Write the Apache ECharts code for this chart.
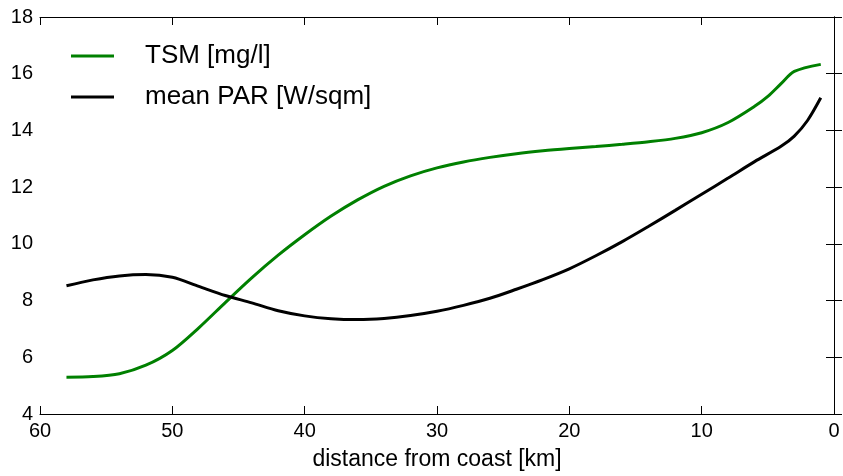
<!DOCTYPE html>
<html>
<head>
<meta charset="utf-8">
<script src="https://cdn.jsdelivr.net/npm/echarts@6/dist/echarts.min.js"></script>
<style>
html,body{margin:0;padding:0;background:#fff;}
#chart{width:843px;height:476px;}
</style>
</head>
<body>
<div id="chart"></div>
<script>
// distance from coast [km]
const distance = [58,56,54,52,50,48,46,44,42,40,38,36,34,32,30,28,26,24,22,20,18,16,14,12,10,8,6,5,4,3,1];
const tsm = [5.30,5.32,5.42,5.72,6.24,7.04,7.93,8.80,9.60,10.32,10.98,11.55,12.03,12.40,12.68,12.89,13.05,13.18,13.28,13.36,13.43,13.51,13.60,13.72,13.92,14.28,14.85,15.20,15.65,16.08,16.33];
const parDistance = [58,56,54,52,50,48,46,44,42,40,38,36,34,32,30,28,26,24,22,20,18,16,14,12,10,8,6,4,3,2,1];
const meanPar = [8.52,8.73,8.87,8.92,8.82,8.50,8.18,7.92,7.64,7.46,7.36,7.33,7.37,7.47,7.62,7.83,8.08,8.40,8.74,9.12,9.58,10.08,10.62,11.18,11.75,12.32,12.90,13.44,13.80,14.35,15.15];
const seriesNames = ['TSM [mg/l]', 'mean PAR [W/sqm]'];
const xTitle = 'distance from coast [km]';

const FONT = 'Liberation Sans';
const chart = echarts.init(document.getElementById('chart'), null, {renderer:'canvas'});

const axisLine = {show:true, lineStyle:{color:'#000', width:1}};
const tickIn = {show:true, inside:true, length:8, lineStyle:{color:'#000', width:1}};

chart.setOption({
  animation:false,
  backgroundColor:'#fff',
  grid:{left:40, right:9, top:17, bottom:62, containLabel:false},
  legend:{
    orient:'vertical',
    left:71, top:43, padding:0,
    itemWidth:43, itemHeight:3,
    itemGap:15,
    icon:'rect',
    textStyle:{fontFamily:FONT, fontSize:26, color:'#000', padding:[0,0,0,26]},
    data:seriesNames
  },
  xAxis:[{
    type:'value', min:0, max:60, interval:10, inverse:true,
    position:'bottom',
    name:xTitle, nameLocation:'middle', nameGap:34,
    nameTextStyle:{fontFamily:FONT, fontSize:23, color:'#000'},
    axisLine:axisLine, axisTick:tickIn,
    axisLabel:{fontFamily:FONT, fontSize:20, color:'#000', margin:7},
    splitLine:{show:false}
  },{
    type:'value', min:0, max:60, interval:10, inverse:true,
    position:'top',
    axisLine:axisLine, axisTick:tickIn,
    axisLabel:{show:false}, splitLine:{show:false}
  }],
  yAxis:[{
    type:'value', min:4, max:18, interval:2,
    position:'left',
    axisLine:axisLine, axisTick:tickIn,
    axisLabel:{fontFamily:FONT, fontSize:20, color:'#000', margin:7},
    splitLine:{show:false}
  },{
    type:'value', min:4, max:18, interval:2,
    position:'right',
    axisLine:axisLine, axisTick:tickIn,
    axisLabel:{show:false}, splitLine:{show:false}
  }],
  series:[{
    name:seriesNames[0], type:'line', xAxisIndex:0, yAxisIndex:0,
    data:distance.map((d,i)=>[d,tsm[i]]),
    showSymbol:false, smooth:0.3,
    lineStyle:{color:'#008000', width:3}, itemStyle:{color:'#008000'}
  },{
    name:seriesNames[1], type:'line', xAxisIndex:0, yAxisIndex:0,
    data:parDistance.map((d,i)=>[d,meanPar[i]]),
    showSymbol:false, smooth:0.3,
    lineStyle:{color:'#000', width:3}, itemStyle:{color:'#000'}
  }]
});
</script>
</body>
</html>
